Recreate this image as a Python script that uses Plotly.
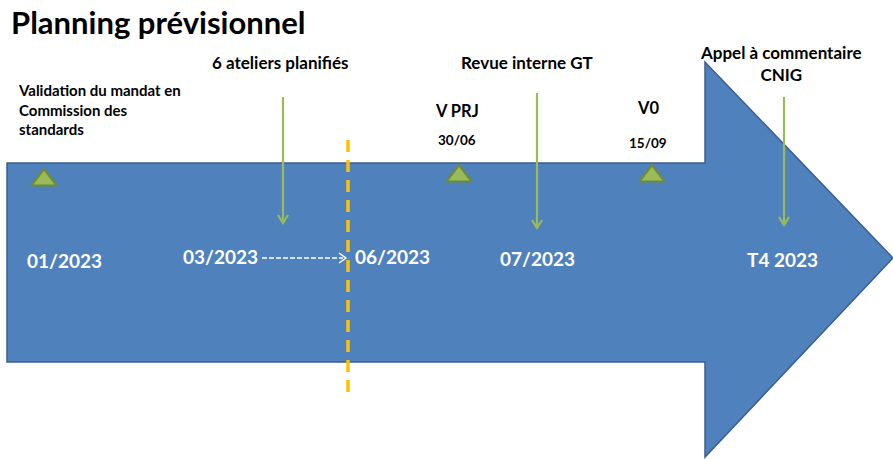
import plotly.graph_objects as go

# ---- data ----
title_text = "Planning prévisionnel"
period_labels = ["01/2023", "03/2023", "06/2023", "07/2023", "T4 2023"]
period_x = [64, 220, 392, 537, 782]
period_y = [260, 256, 256, 258, 259]

event_labels = ["6 ateliers planifiés", "Revue interne GT", "Appel à commentaire<br>CNIG"]
event_x = [280, 527, 781]
event_text_y = [62, 62, 63]

milestone_names = ["Validation du mandat en<br>Commission des<br>standards", "V PRJ", "V0"]
milestone_dates = ["", "30/06", "15/09"]
milestone_x = [44, 459, 652]
milestone_y = [180, 176, 176]

today_x = 348

# ---- styles ----
BLUE = "#4f81bd"
BLUE_EDGE = "#3a5f8e"
GREEN = "#9bbb59"
GREEN_EDGE = "#6f8a3a"
YELLOW = "#ffc000"
FONT = "Lato"

fig = go.Figure()

shapes = []
# big arrow
shapes.append(dict(type="path",
                   path="M 7,163 L 705,163 L 705,62 L 893,258 L 705,457 L 705,362 L 7,362 Z",
                   fillcolor=BLUE, line=dict(color=BLUE_EDGE, width=1.5), layer="below"))

# green event arrows
arrow_x = [283, 537, 784]
arrow_top = [97, 93, 97]
arrow_tip = [223, 228, 225]
for x, y0, y1 in zip(arrow_x, arrow_top, arrow_tip):
    shapes.append(dict(type="line", x0=x, x1=x, y0=y0, y1=y1,
                       line=dict(color=GREEN, width=2.2)))
    shapes.append(dict(type="path",
                       path=f"M {x-5},{y1-8} L {x},{y1} L {x+5},{y1-8}",
                       line=dict(color=GREEN, width=2.2)))

# yellow dashed "today" line
shapes.append(dict(type="line", x0=today_x, x1=today_x, y0=140, y1=395,
                   line=dict(color=YELLOW, width=3.5, dash="12px,8px")))

# white dashed arrow between 03/2023 and 06/2023
shapes.append(dict(type="line", x0=262, x1=343, y0=258, y1=258,
                   line=dict(color="white", width=1.5, dash="5px,2px")))
shapes.append(dict(type="path", path="M 339,253 L 346,258 L 339,263",
                   line=dict(color="white", width=1.5)))

# triangles
fig.add_trace(go.Scatter(x=milestone_x, y=milestone_y, mode="markers",
                         marker=dict(symbol="triangle-up", size=22, color=GREEN,
                                     line=dict(color=GREEN_EDGE, width=2.2)),
                         hoverinfo="skip", showlegend=False))

ann = []
ann.append(dict(x=9, y=22, text=f"<b>{title_text}</b>", showarrow=False,
                xanchor="left", yanchor="middle",
                font=dict(family=FONT, size=31, color="black")))
for lab, x, y in zip(period_labels, period_x, period_y):
    ann.append(dict(x=x, y=y, text=f"<b>{lab}</b>", showarrow=False,
                    xanchor="center", yanchor="middle",
                    font=dict(family=FONT, size=19, color="white")))
for lab, x, y in zip(event_labels, event_x, event_text_y):
    ann.append(dict(x=x, y=y, text=f"<b>{lab}</b>", showarrow=False,
                    xanchor="center", yanchor="middle",
                    font=dict(family=FONT, size=17, color="black")))
# milestone labels
ann.append(dict(x=16, y=109, text=f"<b>{milestone_names[0]}</b>", showarrow=False,
                xanchor="left", yanchor="middle", align="left",
                font=dict(family=FONT, size=15, color="black")))
ann.append(dict(x=457, y=111, text=f"<b>{milestone_names[1]}</b>", showarrow=False,
                xanchor="center", yanchor="middle",
                font=dict(family=FONT, size=16.5, color="black")))
ann.append(dict(x=457, y=140, text=f"<b>{milestone_dates[1]}</b>", showarrow=False,
                xanchor="center", yanchor="middle",
                font=dict(family=FONT, size=13.5, color="black")))
ann.append(dict(x=648, y=108, text=f"<b>{milestone_names[2]}</b>", showarrow=False,
                xanchor="center", yanchor="middle",
                font=dict(family=FONT, size=16.5, color="black")))
ann.append(dict(x=648, y=143, text=f"<b>{milestone_dates[2]}</b>", showarrow=False,
                xanchor="center", yanchor="middle",
                font=dict(family=FONT, size=13.5, color="black")))

fig.update_layout(width=893, height=459, autosize=False,
                  margin=dict(l=0, r=0, t=0, b=0),
                  plot_bgcolor="white", paper_bgcolor="white",
                  shapes=shapes, annotations=ann,
                  xaxis=dict(range=[0, 893], visible=False, fixedrange=True),
                  yaxis=dict(range=[459, 0], visible=False, fixedrange=True))

fig.write_html("out.html", config={"displayModeBar": False},
               post_script="document.body.style.margin='0';document.body.style.overflow='hidden';")
